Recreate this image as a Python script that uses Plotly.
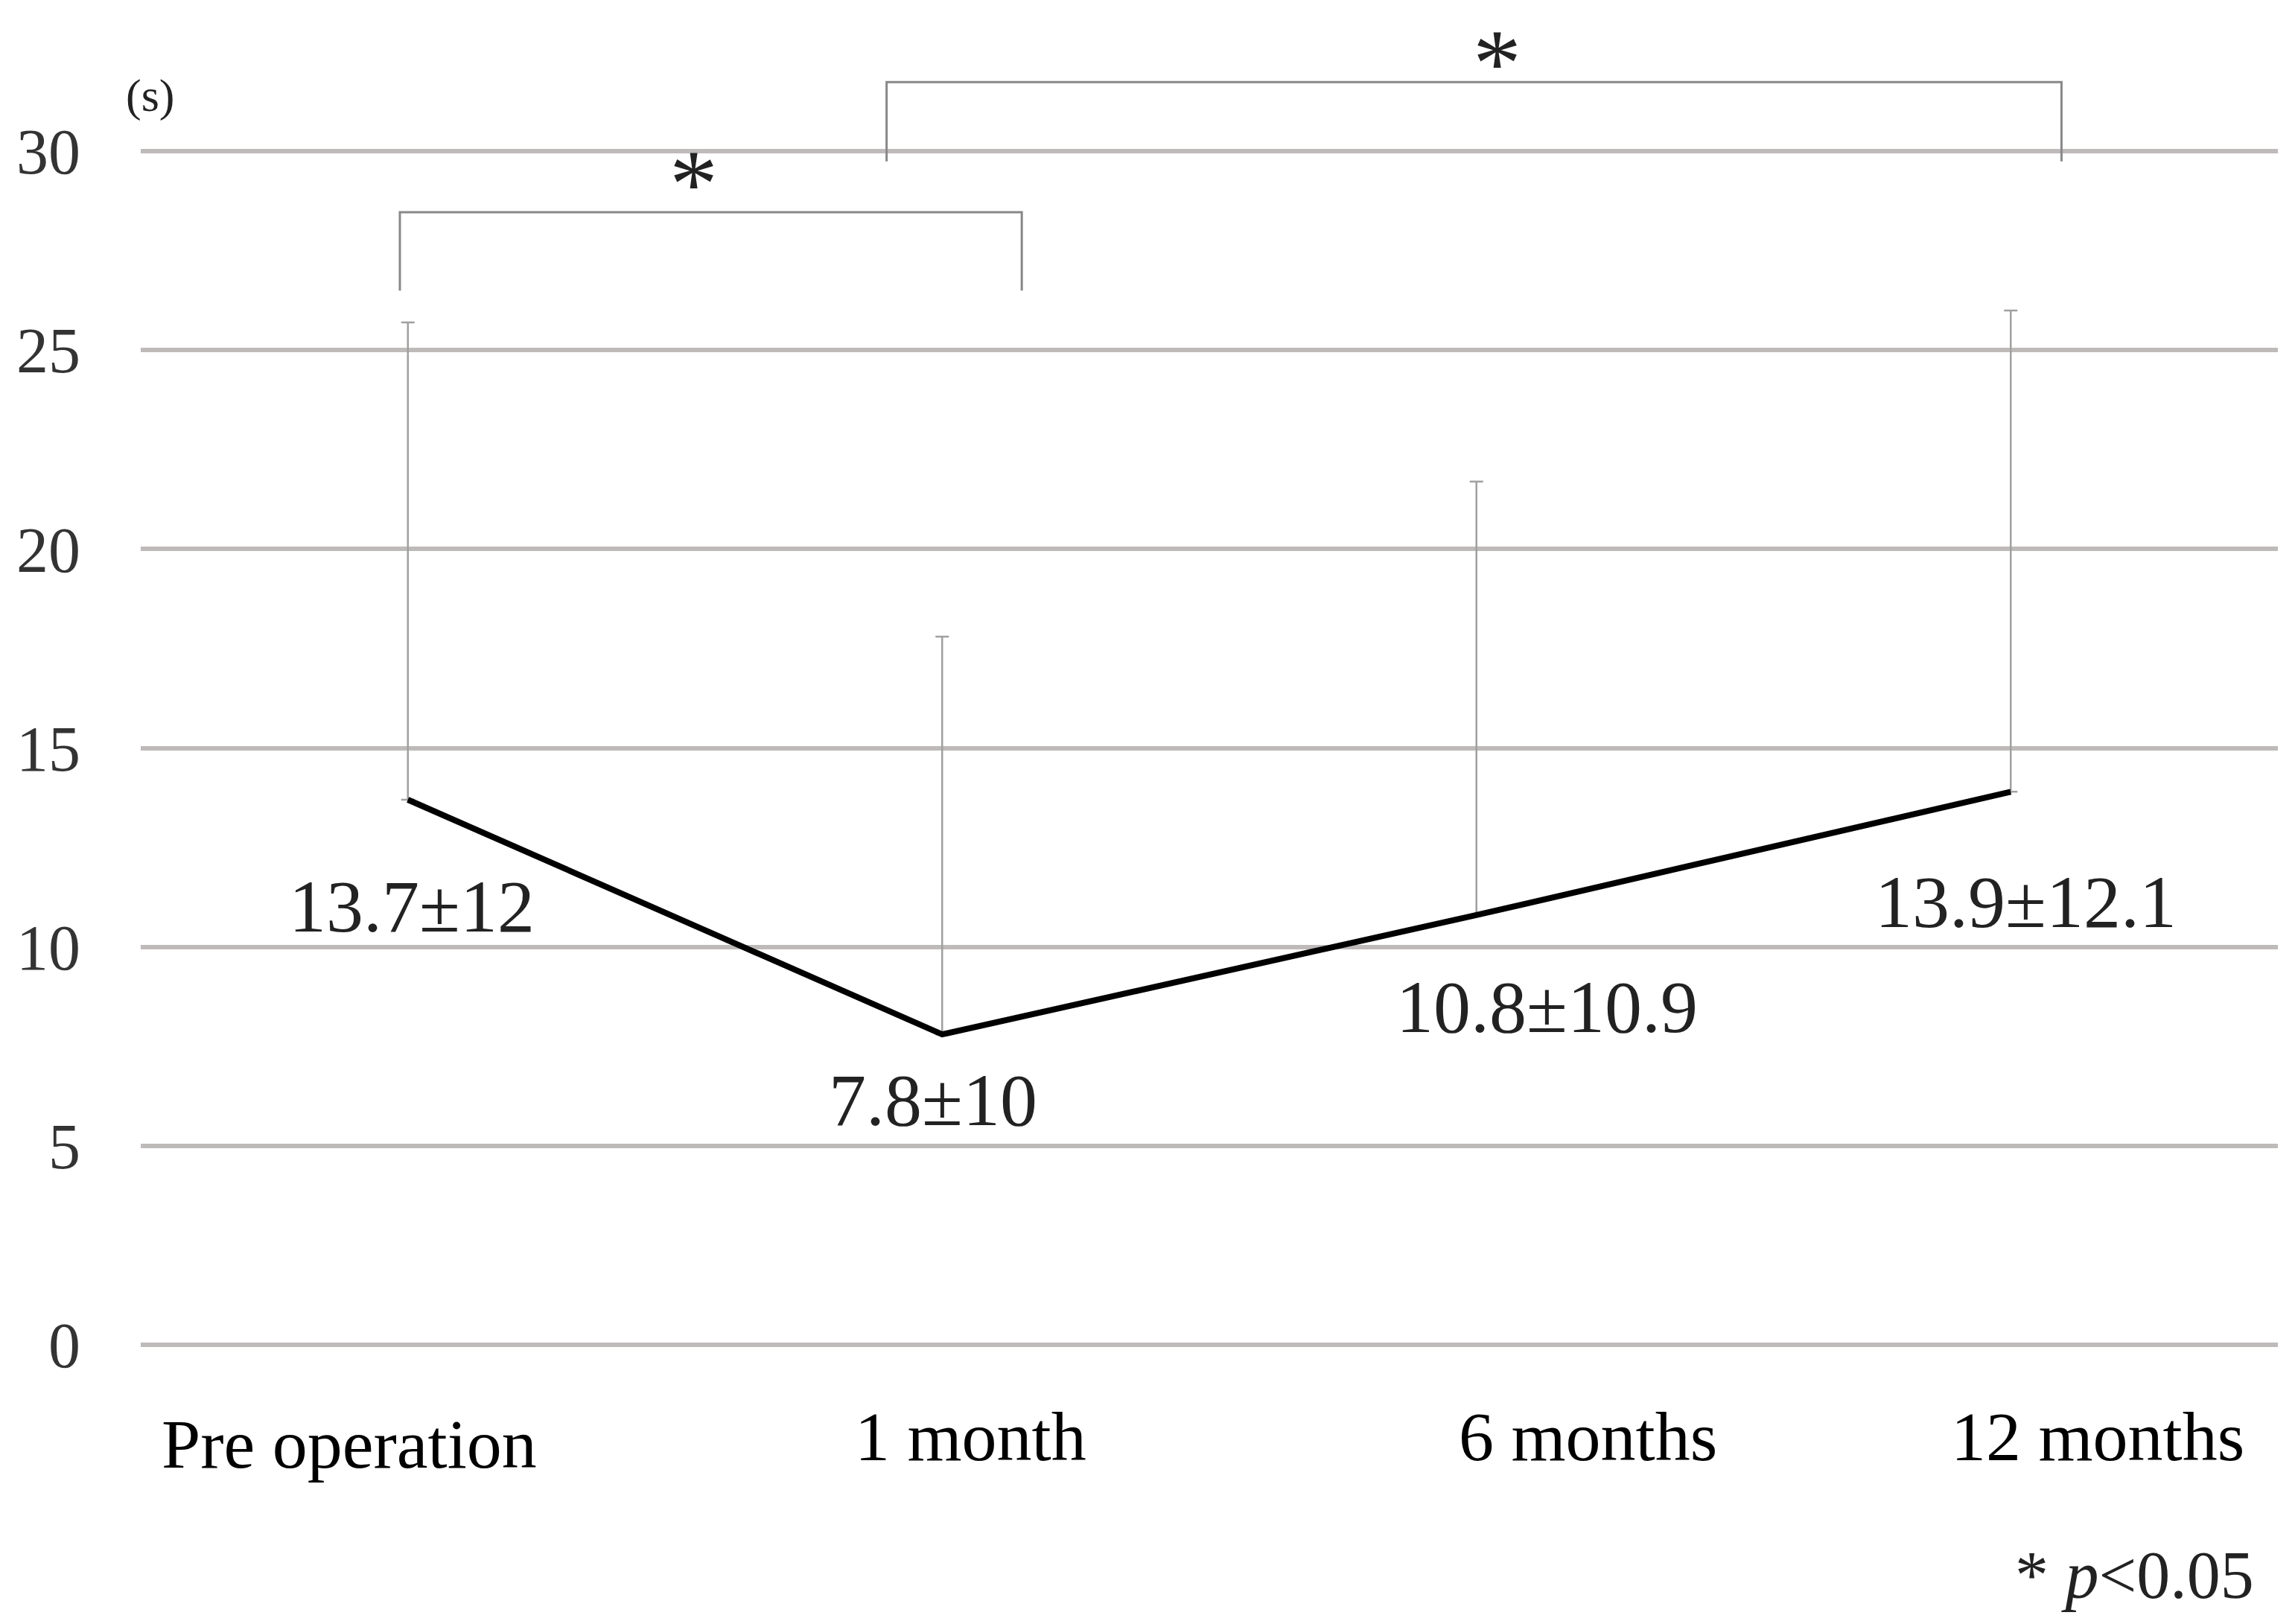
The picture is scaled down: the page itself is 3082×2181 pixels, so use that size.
import plotly.graph_objects as go

# ---- data ----
categories = ["Pre operation", "1 month", "6 months", "12 months"]
means = [13.7, 7.8, 10.8, 13.9]
sds = [12, 10, 10.9, 12.1]
y_ticks = [0, 5, 10, 15, 20, 25, 30]
unit_label = "(s)"
sig_note = "* <i>p</i>&lt;0.05"
comparisons = [(0, 1), (1, 3)]

# ---- styles / layout helpers ----
SERIF = "Liberation Serif"
Y_MIN, Y_MAX = -0.06, 33.6
xpos = list(range(len(categories)))
cat_label_dx = [-0.11, 0.053, 0.209, 0.163]
cat_label_y = [-2.5, -2.3, -2.3, -2.3]
val_label_dx = [0.008, -0.017, 0.132, 0.028]
val_label_dy = [-2.68, -1.66, -2.32, -2.77]
bracket_geom = [  # (x_left, x_right, y_top, y_bottom, star_x, star_y)
    (-0.015, 1.149, 28.47, 26.5, 0.535, 29.2),
    (0.896, 3.095, 31.74, 29.75, 2.038, 32.23),
]


def to_paper(yd):
    return (yd - Y_MIN) / (Y_MAX - Y_MIN)


fig = go.Figure()
fig.add_trace(go.Scatter(
    x=xpos, y=means, mode="lines",
    line=dict(color="black", width=8),
    error_y=dict(type="data", symmetric=False, array=sds,
                 arrayminus=[0] * len(sds), color="#A0A0A0",
                 thickness=2.5, width=9),
    showlegend=False, hoverinfo="skip",
))

annotations = []
for i, c in enumerate(categories):
    annotations.append(dict(x=xpos[i] + cat_label_dx[i], y=to_paper(cat_label_y[i]),
                            xref="x", yref="paper", text=c, showarrow=False,
                            xanchor="center", yanchor="middle",
                            font=dict(family=SERIF, size=94, color="black")))
for i, (m, s) in enumerate(zip(means, sds)):
    annotations.append(dict(x=xpos[i] + val_label_dx[i], y=to_paper(m + val_label_dy[i]),
                            xref="x", yref="paper", text=f"{m:g}±{s:g}",
                            showarrow=False, xanchor="center", yanchor="middle",
                            font=dict(family=SERIF, size=100, color="#222222")))

shapes = []
for (a, b), (xl, xr, yt, yb, sx, sy) in zip(comparisons, bracket_geom):
    shapes.append(dict(type="path", xref="x", yref="y",
                       path=f"M {xl},{yb} L {xl},{yt} L {xr},{yt} L {xr},{yb}",
                       line=dict(color="#888888", width=3)))
    annotations.append(dict(x=sx, y=to_paper(sy), xref="x", yref="paper", text="*",
                            showarrow=False, xanchor="center", yanchor="middle",
                            font=dict(family=SERIF, size=130, color="#222222")))

annotations.append(dict(x=-0.482, y=to_paper(31.4), xref="x", yref="paper",
                        text=unit_label, showarrow=False, xanchor="center",
                        yanchor="middle",
                        font=dict(family=SERIF, size=62, color="#222222")))
annotations.append(dict(x=0.9895, y=to_paper(-5.8), xref="paper", yref="paper",
                        text=sig_note, showarrow=False, xanchor="right",
                        yanchor="middle",
                        font=dict(family=SERIF, size=90, color="#222222")))

fig.update_layout(
    width=3082, height=2181,
    margin=dict(l=181, r=31, t=3, b=380),
    paper_bgcolor="white", plot_bgcolor="white",
    annotations=annotations, shapes=shapes,
    xaxis=dict(range=[-0.5, 3.5], showgrid=False, zeroline=False,
               showline=False, showticklabels=False, ticks=""),
    yaxis=dict(range=[Y_MIN, Y_MAX], tickmode="array", tickvals=y_ticks,
               showgrid=True, gridcolor="#BFBABA", gridwidth=6,
               zeroline=False, showline=False, ticks="",
               ticklabelstandoff=80,
               tickfont=dict(family=SERIF, size=86, color="#333333")),
)

fig.write_html("out.html")
